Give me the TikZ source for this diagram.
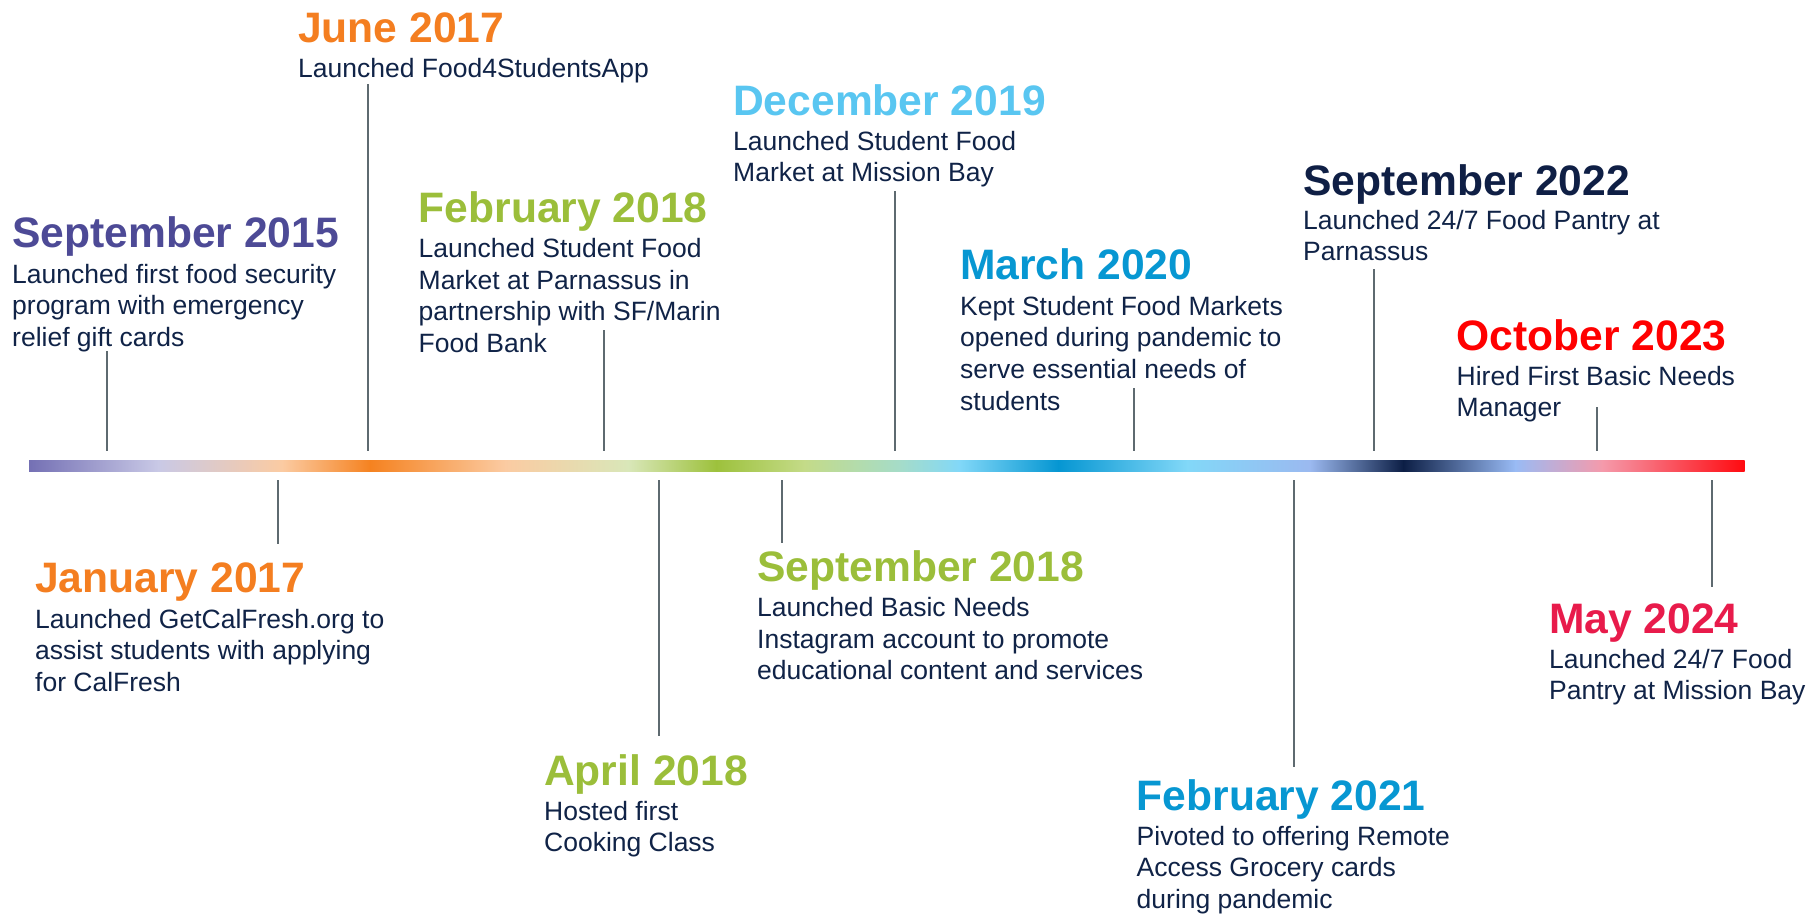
\documentclass[tikz,border=0pt]{standalone}
\usepackage{fontspec}
\setmainfont{Liberation Sans}

% text colours
\definecolor{ink}{HTML}{102347}
\definecolor{cPurple}{HTML}{4D4A96}
\definecolor{cOrange}{HTML}{F47E20}
\definecolor{cGreen}{HTML}{9BBE3A}
\definecolor{cSky}{HTML}{59C6F1}
\definecolor{cBlue}{HTML}{0797D2}
\definecolor{cNavy}{HTML}{0F1F45}
\definecolor{cRed}{HTML}{FF0000}
\definecolor{cCrimson}{HTML}{E81B4B}
\definecolor{stemgray}{HTML}{5E6A70}

% colour stops of the timeline bar
\definecolor{g01}{HTML}{7470B4}
\definecolor{g02}{HTML}{C9C9E6}
\definecolor{g03}{HTML}{FBCBA2}
\definecolor{g04}{HTML}{F58220}
\definecolor{g05}{HTML}{FBCBA2}
\definecolor{g06}{HTML}{D9E7B9}
\definecolor{g07}{HTML}{9DC13C}
\definecolor{g08}{HTML}{C4DB88}
\definecolor{g09}{HTML}{A5DCC9}
\definecolor{g10}{HTML}{82D8F8}
\definecolor{g11}{HTML}{0596D2}
\definecolor{g12}{HTML}{82D8F8}
\definecolor{g13}{HTML}{9BB9F0}
\definecolor{g14}{HTML}{0C1E45}
\definecolor{g15}{HTML}{99BBF5}
\definecolor{g16}{HTML}{F59AAB}
\definecolor{g17}{HTML}{FF0A10}

% line pitch of the description texts
\newcommand{\lp}{31.7}

\tikzset{
  yr/.style={anchor=base west, inner sep=0pt, font=\fontsize{42.6}{50}\selectfont\bfseries},
  % multi-line nodes sit on the baseline of their last line
  note/.style={anchor=base west, inner sep=0pt, align=left, text=ink,
               font=\fontsize{26.5}{31.7}\selectfont},
  stem/.style={draw=stemgray, line width=2pt},
}

\begin{document}
\begin{tikzpicture}[x=1pt,y=-1pt]
\useasboundingbox (0,0) rectangle (1818,916);
\fill[white] (0,0) rectangle (1818,916);

% gradient timeline bar
\foreach \xa/\ca/\xb/\cb in {
  29/g01/158/g02, 158/g02/282/g03, 282/g03/370/g04, 370/g04/505/g05,
  505/g05/628/g06, 628/g06/716/g07, 716/g07/804/g08, 804/g08/900/g09,
  900/g09/959/g10, 959/g10/1058/g11, 1058/g11/1187/g12, 1187/g12/1310/g13,
  1310/g13/1403/g14, 1403/g14/1515/g15, 1515/g15/1602/g16, 1602/g16/1744/g17}
  \shade[left color=\ca, right color=\cb] (\xa,460) rectangle (\xb+0.6,471);

% ---- events above the bar ----
\node[yr, text=cPurple] (t1) at (12,247) {September 2015};
\node[note] (b1) at (12,283+2*\lp) {Launched first food security\\program with emergency\\relief gift cards};
\coordinate (s1a) at (107,351); \coordinate (s1b) at (107,451);
\draw[stem] (s1a) -- (s1b);

\node[yr, text=cOrange] (t2) at (298,42) {June 2017};
\node[note] (b2) at (298,77) {Launched Food4StudentsApp};
\coordinate (s2a) at (367.5,84); \coordinate (s2b) at (367.5,451);
\draw[stem] (s2a) -- (s2b);

\node[yr, text=cGreen] (t3) at (418.5,222.5) {February 2018};
\node[note] (b3) at (418.5,257.5+3*\lp) {Launched Student Food\\Market at Parnassus in\\partnership with SF/Marin\\Food Bank};
\coordinate (s3a) at (604,330); \coordinate (s3b) at (604,451);
\draw[stem] (s3a) -- (s3b);

\node[yr, text=cSky] (t4) at (733,115) {December 2019};
\node[note] (b4) at (733,150+\lp) {Launched Student Food\\Market at Mission Bay};
\coordinate (s4a) at (895,191); \coordinate (s4b) at (895,451);
\draw[stem] (s4a) -- (s4b);

\node[yr, text=cBlue] (t5) at (960,279.5) {March 2020};
\node[note] (b5) at (960,315+3*\lp) {Kept Student Food Markets\\opened during pandemic to\\serve essential needs of\\students};
\coordinate (s5a) at (1134,388); \coordinate (s5b) at (1134,451);
\draw[stem] (s5a) -- (s5b);

\node[yr, text=cNavy] (t6) at (1303,195) {September 2022};
\node[note] (b6) at (1303,229+\lp) {Launched 24/7 Food Pantry at\\Parnassus};
\coordinate (s6a) at (1374,269); \coordinate (s6b) at (1374,451);
\draw[stem] (s6a) -- (s6b);

\node[yr, text=cRed] (t7) at (1456.5,350) {October 2023};
\node[note] (b7) at (1456.5,385+\lp) {Hired First Basic Needs\\Manager};
\coordinate (s7a) at (1597,407); \coordinate (s7b) at (1597,451);
\draw[stem] (s7a) -- (s7b);

% ---- events below the bar ----
\coordinate (s8a) at (278,480); \coordinate (s8b) at (278,544);
\draw[stem] (s8a) -- (s8b);
\node[yr, text=cOrange] (t8) at (35,592.5) {January 2017};
\node[note] (b8) at (35,628+2*\lp) {Launched GetCalFresh.org to\\assist students with applying\\for CalFresh};

\coordinate (s9a) at (658.5,480); \coordinate (s9b) at (658.5,736);
\draw[stem] (s9a) -- (s9b);
\node[yr, text=cGreen] (t9) at (544,785) {April 2018};
\node[note] (b9) at (544,820+\lp) {Hosted first\\Cooking Class};

\coordinate (s10a) at (781.5,480); \coordinate (s10b) at (781.5,543);
\draw[stem] (s10a) -- (s10b);
\node[yr, text=cGreen] (t10) at (757,581) {September 2018};
\node[note] (b10) at (757,616.5+2*\lp) {Launched Basic Needs\\Instagram account to promote\\educational content and services};

\coordinate (s11a) at (1294,480); \coordinate (s11b) at (1294,767);
\draw[stem] (s11a) -- (s11b);
\node[yr, text=cBlue] (t11) at (1136.5,810) {February 2021};
\node[note] (b11) at (1136.5,845+2*\lp) {Pivoted to offering Remote\\Access Grocery cards\\during pandemic};

\coordinate (s12a) at (1712,480); \coordinate (s12b) at (1712,587);
\draw[stem] (s12a) -- (s12b);
\node[yr, text=cCrimson] (t12) at (1549,633) {May 2024};
\node[note] (b12) at (1549,668+\lp) {Launched 24/7 Food\\Pantry at Mission Bay};
\end{tikzpicture}
\end{document}
